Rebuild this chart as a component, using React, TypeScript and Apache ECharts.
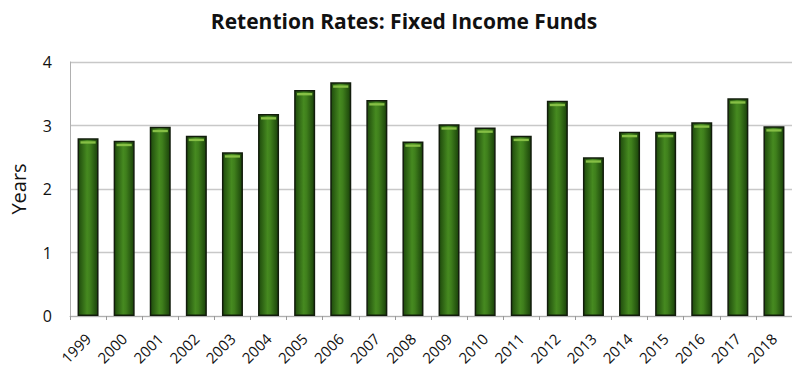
import React, { useEffect, useRef } from "react";
import * as echarts from "echarts";

const years = ["1999","2000","2001","2002","2003","2004","2005","2006","2007","2008","2009","2010","2011","2012","2013","2014","2015","2016","2017","2018"];
const retention = [2.8, 2.76, 2.98, 2.84, 2.58, 3.18, 3.56, 3.68, 3.4, 2.75, 3.02, 2.97, 2.84, 3.39, 2.5, 2.9, 2.9, 3.05, 3.43, 2.99];

export default function App() {
  const ref = useRef<HTMLDivElement>(null);
  useEffect(() => {
    if (!ref.current) return;
    const chart = echarts.init(ref.current, undefined, { renderer: "svg" });
    chart.setOption({
      animation: false,
      backgroundColor: "#ffffff",
      title: {
        text: "Retention Rates: Fixed Income Funds",
        left: 399,
        top: 5,
        textAlign: "center",
        textStyle: { fontFamily: "Open Sans", fontWeight: "bold", fontSize: 21, color: "#111" },
      },
      grid: { left: 70, right: -6, top: 62, bottom: 54, containLabel: false },
      xAxis: {
        type: "category",
        data: years,
        axisLine: { show: true, lineStyle: { color: "#b0b0b0", width: 1 } },
        axisTick: { show: true, length: 4, lineStyle: { color: "#999" } },
        axisLabel: {
          rotate: 45,
          fontFamily: "Open Sans",
          fontSize: 15,
          color: "#111",
          margin: 20,
        },
      },
      yAxis: {
        type: "value",
        min: 0,
        max: 4,
        interval: 1,
        name: "Years",
        nameLocation: "middle",
        nameGap: 42,
        nameTextStyle: { fontFamily: "Open Sans", fontSize: 20, color: "#111" },
        axisLine: { show: true, lineStyle: { color: "#b0b0b0" } },
        axisTick: { show: false },
        axisLabel: { fontFamily: "Open Sans", fontSize: 16, color: "#111", margin: 18 },
        splitLine: { show: true, lineStyle: { color: "#c8c8c8", width: 1.3 } },
      },
      series: [
        {
          type: "bar",
          data: retention,
          barWidth: 21,
          itemStyle: {
            color: new echarts.graphic.LinearGradient(0, 0, 1, 0, [
              { offset: 0, color: "#1e4a0c" },
              { offset: 0.45, color: "#468a20" },
              { offset: 0.6, color: "#3f7f1c" },
              { offset: 1, color: "#1a420a" },
            ]),
            borderColor: "#121c0c",
            borderWidth: 1.5,
          },
        },
        {
          type: "pictorialBar",
          data: retention,
          symbol: "rect",
          symbolSize: [15, 2.5],
          symbolPosition: "end",
          symbolOffset: [0, 3],
          itemStyle: { color: "#86bf45" },
          z: 3,
        },
      ],
    });
    return () => chart.dispose();
  }, []);
  return (
    <div
      ref={ref}
      style={{ position: "fixed", left: 0, top: 0, width: 792, height: 370 }}
    />
  );
}
